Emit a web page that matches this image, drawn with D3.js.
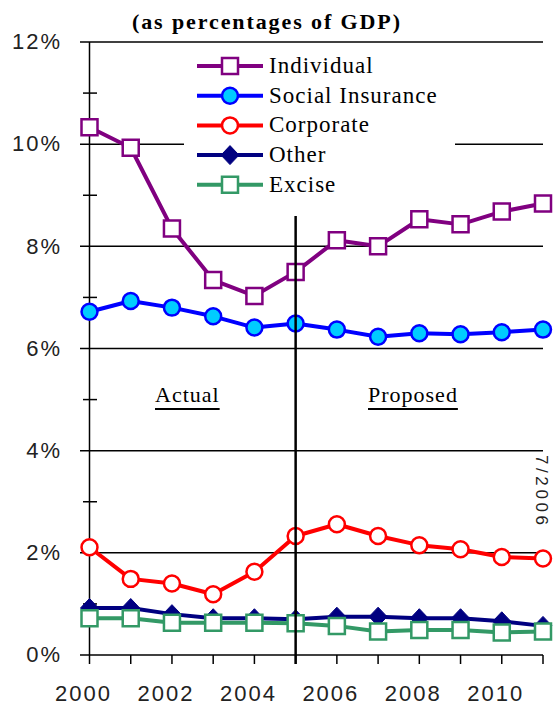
<!DOCTYPE html>
<html>
<head>
<meta charset="utf-8">
<script src="https://cdn.jsdelivr.net/npm/d3@7"></script>
<style>
  body { margin: 0; background: #fff; }
  svg { display: block; }
</style>
</head>
<body>
<svg width="555" height="706"></svg>
<script>
const years = [2000, 2001, 2002, 2003, 2004, 2005, 2006, 2007, 2008, 2009, 2010, 2011];
const yearLabels = [2000, 2002, 2004, 2006, 2008, 2010];
const yTicks = [0, 2, 4, 6, 8, 10, 12];
const yMinor = [1, 3, 5, 7, 9, 11];

const individual = [10.33, 9.93, 8.35, 7.34, 7.03, 7.50, 8.12, 8.00, 8.53, 8.43, 8.68, 8.84];
const socialIns  = [6.72, 6.93, 6.80, 6.63, 6.41, 6.49, 6.37, 6.23, 6.30, 6.28, 6.32, 6.37];
const corporate  = [2.11, 1.49, 1.40, 1.19, 1.63, 2.33, 2.56, 2.33, 2.15, 2.07, 1.92, 1.89];
const other      = [0.92, 0.92, 0.80, 0.72, 0.72, 0.70, 0.75, 0.75, 0.72, 0.72, 0.66, 0.57];
const excise     = [0.72, 0.72, 0.63, 0.63, 0.63, 0.62, 0.57, 0.46, 0.49, 0.49, 0.44, 0.46];

const seriesNames = ["Individual", "Social Insurance", "Corporate", "Other", "Excise"];

const series = [
  { name: seriesNames[0], values: individual, color: "#800080", fill: "#ffffff", shape: "square" },
  { name: seriesNames[1], values: socialIns, color: "#0000ff", fill: "#00ccff", shape: "circle" },
  { name: seriesNames[2], values: corporate, color: "#ff0000", fill: "#ffffff", shape: "circle" },
  { name: seriesNames[3], values: other, color: "#000080", fill: "#000080", shape: "diamond" },
  { name: seriesNames[4], values: excise, color: "#339966", fill: "#ffffff", shape: "square" }
];

const svg = d3.select("svg");
const serif = "'Liberation Serif', 'Times New Roman', serif";
const sans = "'Liberation Sans', Arial, sans-serif";

const x = d3.scaleLinear().domain([2000, 2011]).range([89.5, 543]);
const y = d3.scaleLinear().domain([0, 12]).range([655, 42]);

// title
svg.append("text")
  .attr("x", 266).attr("y", 29)
  .attr("text-anchor", "middle")
  .attr("textLength", 268).attr("lengthAdjust", "spacing")
  .style("font-family", serif).style("font-weight", "bold").style("font-size", "22px")
  .text("(as percentages of GDP)");

// gridlines
svg.selectAll(".grid")
  .data(yTicks)
  .enter()
  .append("line")
  .attr("class", "grid")
  .attr("x1", 80).attr("x2", 543)
  .attr("y1", d => y(d)).attr("y2", d => y(d))
  .style("stroke", "black").style("stroke-width", 1.5);

// y axis line + minor ticks
svg.append("line")
  .attr("x1", x(2000)).attr("x2", x(2000))
  .attr("y1", y(12)).attr("y2", y(0))
  .style("stroke", "black").style("stroke-width", 1.5);

svg.selectAll(".minor")
  .data(yMinor)
  .enter()
  .append("line")
  .attr("x1", 83).attr("x2", 97)
  .attr("y1", d => y(d)).attr("y2", d => y(d))
  .style("stroke", "black").style("stroke-width", 1.5);

// x ticks
svg.selectAll(".xtick")
  .data(years)
  .enter()
  .append("line")
  .attr("x1", d => x(d)).attr("x2", d => x(d))
  .attr("y1", y(0)).attr("y2", y(0) + 9)
  .style("stroke", "black").style("stroke-width", 1.5);

svg.selectAll(".ylab")
  .data(yTicks)
  .enter()
  .append("text")
  .attr("x", 62).attr("y", d => y(d))
  .attr("dy", "0.33em")
  .attr("text-anchor", "end")
  .style("font-family", sans).style("font-size", "22px").style("letter-spacing", "2px")
  .style("fill", "#222")
  .text(d => d + "%");

svg.selectAll(".xlab")
  .data(yearLabels)
  .enter()
  .append("text")
  .attr("x", d => x(d) - 6).attr("y", 701)
  .attr("text-anchor", "middle")
  .style("font-family", sans).style("font-size", "22px").style("letter-spacing", "2px")
  .style("fill", "#222")
  .text(d => d);

// legend background
svg.append("rect")
  .attr("x", 184).attr("y", 48).attr("width", 271).attr("height", 150)
  .style("fill", "white");

// excel style diamond: square turned 45 degrees
const diamondPath = "M0,-9.5L9,0L0,9.5L-9,0Z";

const symbolFor = s => {
  if (s.shape === "diamond") return diamondPath;
  if (s.shape === "circle") return d3.symbol().type(d3.symbolCircle).size(200)();
  return d3.symbol().type(d3.symbolSquare).size(256)();
};

const line = d3.line().x((d, i) => x(years[i])).y(d => y(d));

series.forEach(s => {
  svg.append("path")
    .attr("d", line(s.values))
    .style("fill", "none")
    .style("stroke", s.color)
    .style("stroke-width", 4)
    .style("stroke-linejoin", "round");

  svg.selectAll(null)
    .data(s.values)
    .enter()
    .append("path")
    .attr("d", symbolFor(s))
    .attr("transform", (d, i) => "translate(" + x(years[i]) + "," + y(d) + ")")
    .style("fill", s.fill)
    .style("stroke", s.color)
    .style("stroke-width", s.shape === "diamond" ? 1 : 2.5);
});

// legend entries
series.forEach((s, i) => {
  let ly = 66 + i * 29.7;
  svg.append("line")
    .attr("x1", 197).attr("x2", 263)
    .attr("y1", ly).attr("y2", ly)
    .style("stroke", s.color).style("stroke-width", 4);
  svg.append("path")
    .attr("d", symbolFor(s))
    .attr("transform", "translate(230," + ly + ")")
    .style("fill", s.fill)
    .style("stroke", s.color)
    .style("stroke-width", s.shape === "diamond" ? 1 : 2.5);
  svg.append("text")
    .attr("x", 269).attr("y", ly + 7)
    .style("font-family", serif).style("font-size", "23px").style("letter-spacing", "1px")
    .text(s.name);
});

// actual / proposed divider
svg.append("line")
  .attr("x1", x(2005)).attr("x2", x(2005))
  .attr("y1", 216).attr("y2", y(0) + 9)
  .style("stroke", "black").style("stroke-width", 2.5);

const periods = [{ label: "Actual", x0: 155 }, { label: "Proposed", x0: 368 }];
periods.forEach(p => {
  let t = svg.append("text")
    .attr("x", p.x0).attr("y", 402)
    .style("font-family", serif).style("font-size", "22px").style("letter-spacing", "1px")
    .text(p.label);
  let w = t.node().getComputedTextLength();
  svg.append("line")
    .attr("x1", p.x0).attr("x2", p.x0 + w)
    .attr("y1", 409).attr("y2", 409)
    .style("stroke", "black").style("stroke-width", 2);
});

svg.append("text")
  .attr("transform", "translate(536,455) rotate(90)")
  .attr("textLength", 70).attr("lengthAdjust", "spacing")
  .style("font-family", sans).style("font-size", "17px")
  .style("fill", "#222")
  .text("7/2006");
</script>
</body>
</html>
